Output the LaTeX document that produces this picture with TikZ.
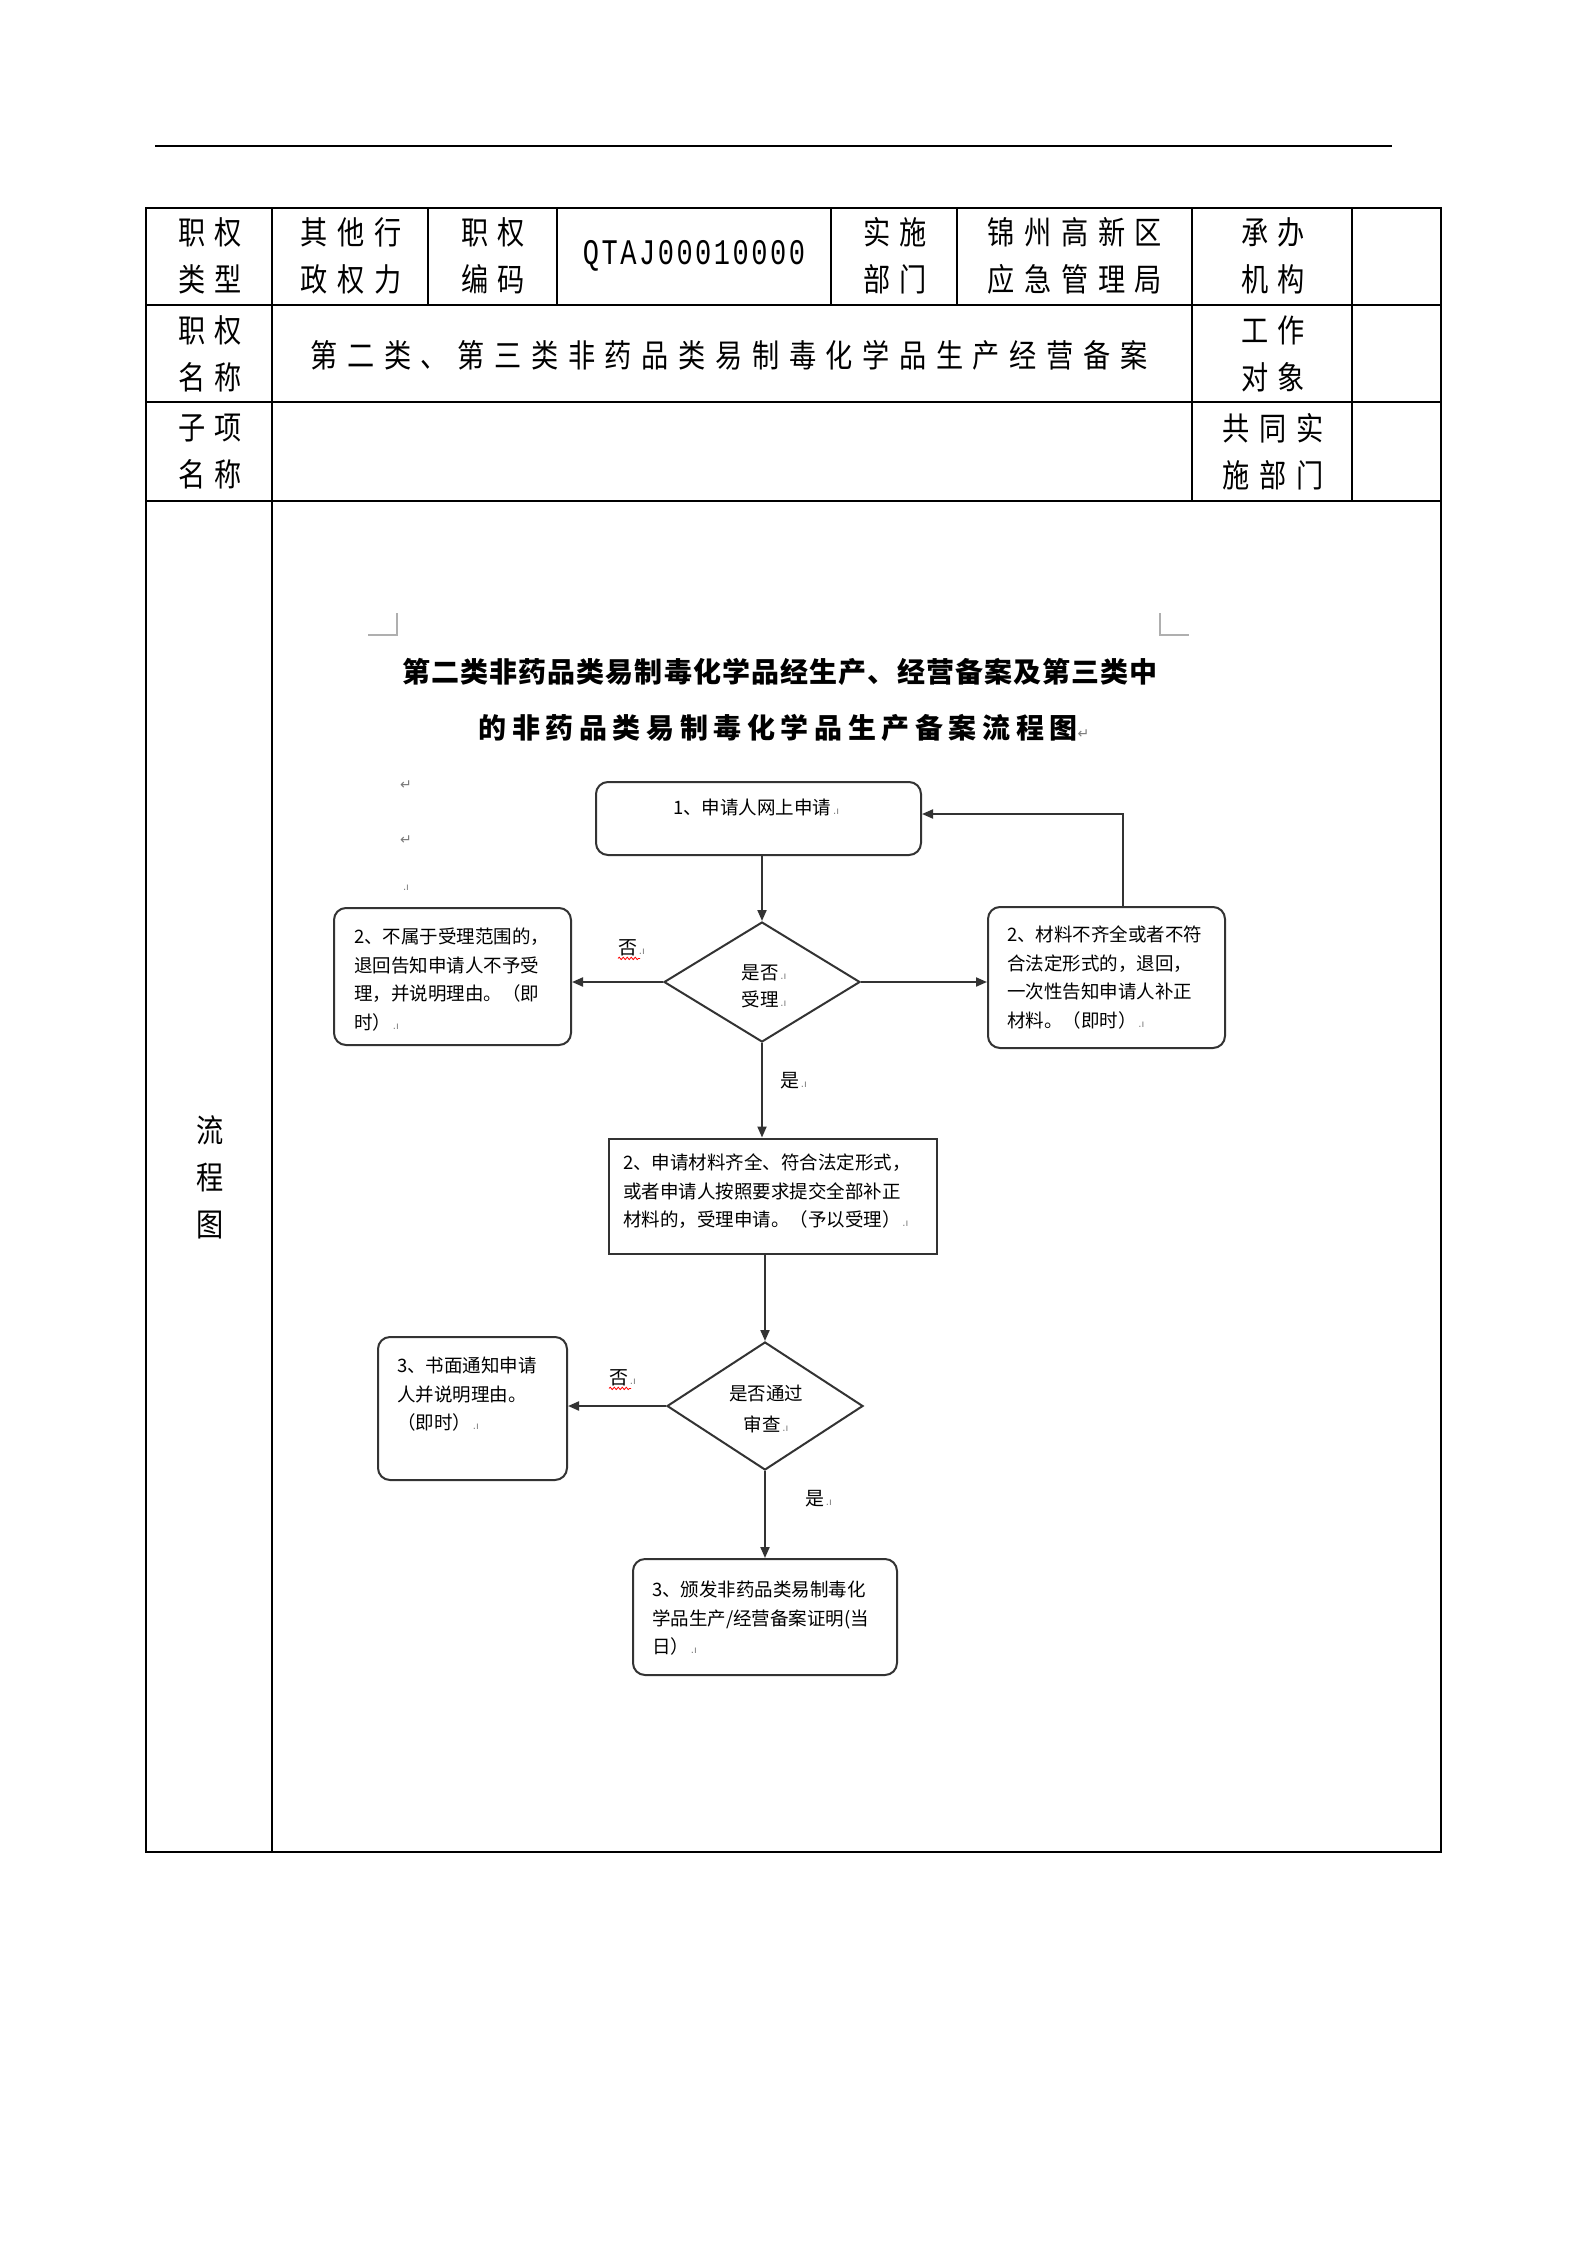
\documentclass[tikz,border=0pt]{standalone}
\usepackage{fontspec}
\setmainfont{Noto Sans CJK SC}
\newfontfamily\tabfont[FakeStretch=0.85,LetterSpace=30]{Noto Sans CJK SC}
\newfontfamily\codefont[FakeStretch=0.75,LetterSpace=7]{Liberation Mono}
\newfontfamily\titleAfont[LetterSpace=4]{Noto Sans CJK SC}
\newfontfamily\titleBfont[LetterSpace=20]{Noto Sans CJK SC}
\newfontfamily\boxfont{Noto Sans CJK SC}
\newfontfamily\symfont{DejaVu Sans}
\usetikzlibrary{shapes.geometric,arrows.meta,decorations.pathmorphing}
\definecolor{ln}{HTML}{333333}
\definecolor{mk}{HTML}{7A7A7A}
\newcommand{\emk}{{\symfont\fontsize{10}{10}\selectfont\color{mk}\,.ı}}
\tikzset{
  tline/.style={line width=1.5pt, draw=black},
  tabtext/.style={font=\tabfont\fontsize{32}{47}\selectfont, align=center, inner sep=0pt, xshift=1pt},
  fbox/.style={draw=ln, line width=2pt, rounded corners=12pt, inner sep=0pt},
  sbox/.style={draw=ln, line width=2pt, inner sep=0pt},
  dia/.style={diamond, draw=ln, line width=2pt, inner sep=0pt},
  btext/.style={font=\boxfont\fontsize{18.5}{28.5}\selectfont, align=left, inner sep=0pt, anchor=north west},
  flow/.style={draw=ln, line width=2pt, -{Triangle[length=11pt,width=9pt]}},
  lbl/.style={font=\boxfont\fontsize{19}{19}\selectfont, inner sep=0pt, anchor=west},
  wavy/.style={draw=red, line width=0.8pt, decorate, decoration={snake, amplitude=1.2pt, segment length=4pt}},
  pmk/.style={font=\symfont\fontsize{14}{14}\selectfont, text=mk, inner sep=0pt},
  cornermk/.style={draw=mk!60, line width=1.5pt}
}
\begin{document}
\begin{tikzpicture}[x=1pt,y=-1pt]
\fill[white] (0,0) rectangle (1587,2245);
\useasboundingbox (0,0) rectangle (1587,2245);
% top rule
\draw[line width=1.5pt] (155,146) -- (1392,146);
% table
\draw[tline] (146,208) rectangle (1441,1852);
\draw[tline] (146,305) -- (1441,305);
\draw[tline] (146,402) -- (1441,402);
\draw[tline] (146,501) -- (1441,501);
\draw[tline] (272,208) -- (272,1852);
\foreach \xx in {428,557,831,957} {\draw[tline] (\xx,208) -- (\xx,305);}
\draw[tline] (1192,208) -- (1192,501);
\draw[tline] (1352,208) -- (1352,501);
% table text
\node[tabtext] (c1) at (209,256) {职权\\类型};
\node[tabtext] (c2) at (350,256) {其他行\\政权力};
\node[tabtext] (c3) at (492,256) {职权\\编码};
\node[font=\codefont\fontsize{36}{36}\selectfont, inner sep=0pt] (c4) at (694,256) {QTAJ00010000};
\node[tabtext] (c5) at (894,256) {实施\\部门};
\node[tabtext] (c6) at (1074,256) {锦州高新区\\应急管理局};
\node[tabtext] (c7) at (1272,256) {承办\\机构};
\node[tabtext] (r2a) at (209,354) {职权\\名称};
\node[tabtext] (r2b) at (728,355) {第二类、第三类非药品类易制毒化学品生产经营备案};
\node[tabtext] (r2c) at (1272,354) {工作\\对象};
\node[tabtext] (r3a) at (209,452) {子项\\名称};
\node[tabtext] (r3c) at (1272,452) {共同实\\施部门};
\node[tabtext] (r4a) at (209,1177) {流\\程\\图};
% corner marks
\draw[cornermk] (397,613) -- (397,635) -- (368,635);
\draw[cornermk] (1160,613) -- (1160,635) -- (1189,635);
% title
\node[font=\titleAfont\bfseries\fontsize{28}{28}\selectfont, inner sep=0pt] (title1) at (780,672) {第二类非药品类易制毒化学品经生产、经营备案及第三类中};
\node[font=\titleBfont\bfseries\fontsize{28}{28}\selectfont, inner sep=0pt] (title2) at (784,728) {的非药品类易制毒化学品生产备案流程图{\symfont\mdseries\fontsize{14}{14}\selectfont\color{mk}↵}};
% paragraph marks
\node[pmk] (pm1) at (406,785) {↵};
\node[pmk] (pm2) at (406,840) {↵};
\node[pmk] (pm3) at (406,888) {\fontsize{10}{10}\selectfont .ı};
% flow boxes
\node[fbox, minimum width=325pt, minimum height=73pt] (b1) at (758.5,818.5) {};
\node[dia, minimum width=196pt, minimum height=120pt] (d1) at (762,982) {};
\node[fbox, minimum width=237pt, minimum height=137pt] (b2l) at (452.5,976.5) {};
\node[fbox, minimum width=237pt, minimum height=141pt] (b2r) at (1106.5,977.5) {};
\node[sbox, minimum width=328pt, minimum height=115pt] (b3) at (773,1196) {};
\node[dia, minimum width=196pt, minimum height=128pt] (d2) at (765,1406) {};
\node[fbox, minimum width=189pt, minimum height=143pt] (b4) at (472.5,1408.5) {};
\node[fbox, minimum width=264pt, minimum height=116pt] (b5) at (765,1617) {};
% texts
\node[btext] (t1) at (673,799) {1、申请人网上申请\emk};
\node[btext] (t2l) at (354,928) {2、不属于受理范围的，\\退回告知申请人不予受\\理，并说明理由。（即\\时）\emk};
\node[btext] (t2r) at (1007,926) {2、材料不齐全或者不符\\合法定形式的，退回，\\一次性告知申请人补正\\材料。（即时）\emk};
\node[btext] (t3) at (623,1154) {2、申请材料齐全、符合法定形式，\\或者申请人按照要求提交全部补正\\材料的，受理申请。（予以受理）\emk};
\node[btext] (t4) at (397,1357) {3、书面通知申请\\人并说明理由。\\（即时）\emk};
\node[btext] (t5) at (652,1581) {3、颁发非药品类易制毒化\\学品生产/经营备案证明(当\\日）\emk};
\node[font=\boxfont\fontsize{18.5}{27}\selectfont, align=center, inner sep=0pt] (td1) at (764,986) {是否\emk\\受理\emk};
\node[font=\boxfont\fontsize{18.5}{31}\selectfont, align=center, inner sep=0pt] (td2) at (766,1409) {是否通过\\审查\emk};
% labels
\node[lbl] (n1) at (618,948) {否\emk};
\node[lbl] (y1) at (780,1081) {是\emk};
\node[lbl] (n2) at (609,1378) {否\emk};
\node[lbl] (y2) at (805,1499) {是\emk};
\draw[wavy] ([yshift=-2pt]n1.south west) -- ++(22,0);
\draw[wavy] ([yshift=-2pt]n2.south west) -- ++(22,0);
% connectors
\coordinate (fb) at (1123,814);
\draw[flow] (d1.north |- b1.south) -- (d1.north);
\draw[flow] (d1.west) -- (d1.west -| b2l.east);
\draw[flow] (d1.east) -- (d1.east -| b2r.west);
\draw[flow] (b2r.north -| fb) -- (fb) -- (fb -| b1.east);
\draw[flow] (d1.south) -- (d1.south |- b3.north);
\draw[flow] (b3.south -| d2.north) -- (d2.north);
\draw[flow] (d2.west) -- (d2.west -| b4.east);
\draw[flow] (d2.south) -- (d2.south |- b5.north);
\end{tikzpicture}
\end{document}
